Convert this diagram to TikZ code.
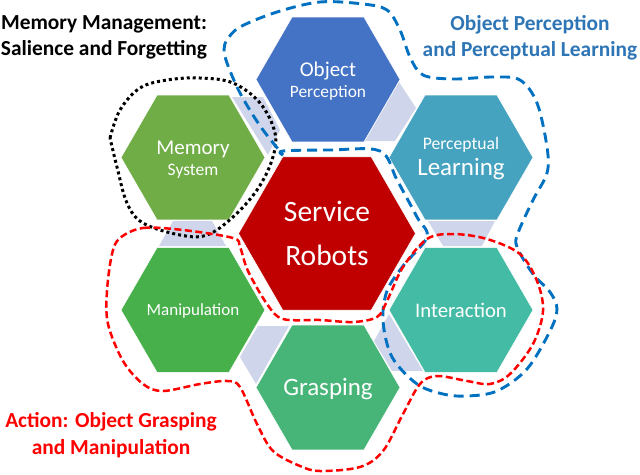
\documentclass[tikz,border=0pt]{standalone}
\usepackage{fontspec}
\setmainfont{Carlito}
\usetikzlibrary{shapes.geometric}
\definecolor{hexobj}{HTML}{4472C4}
\definecolor{hexper}{HTML}{45A3C0}
\definecolor{hexmem}{HTML}{70AD47}
\definecolor{hexman}{HTML}{47B04B}
\definecolor{hexgra}{HTML}{47B578}
\definecolor{hexint}{HTML}{44BBA4}
\definecolor{hexser}{HTML}{C00000}
\definecolor{traplight}{HTML}{CFD5EA}
\definecolor{lblblue}{HTML}{2E75B6}
\definecolor{dashblue}{HTML}{0070C0}
\newcommand{\fs}[1]{\fontsize{#1}{#1}\selectfont}
\newcommand{\dn}[2]{\raisebox{-#1}[\height][\depth]{#2}}
\tikzset{
  hexa/.style={regular polygon,regular polygon sides=6,minimum size=144pt,inner sep=-20pt,
    draw=white,line width=0.6pt,text=white,align=center},
  trap/.style={fill=traplight,draw=none},
  lbl/.style={font=\fs{21.4}\bfseries,align=center,inner sep=0pt},
  bluedash/.style={draw=dashblue,line width=2.9pt,dash pattern=on 10pt off 6pt,line join=round},
  reddash/.style={draw=red,line width=2.5pt,dash pattern=on 7pt off 3.5pt,line join=round},
  blackdot/.style={draw=black,line width=3pt,dash pattern=on 3pt off 3pt,line join=round},
}
\begin{document}
\begin{tikzpicture}[x=1pt,y=-1pt]
\useasboundingbox (0,0) rectangle (640,474);
% connecting trapezoids
\fill[trap] (232,97) -- (263,97) -- (280,130) -- (268,155) -- cycle;
\fill[trap] (399,82) -- (416,108) -- (395,141) -- (365,141) -- cycle;
\fill[trap] (428,221) -- (495,221) -- (482,246) -- (443,246) -- cycle;
\fill[trap] (389,314) -- (423,371) -- (392,371) -- (374,341) -- cycle;
\fill[trap] (240,357) -- (258,326) -- (289,326) -- (256,384) -- cycle;
\fill[trap] (173,221) -- (212,221) -- (226,246) -- (159,246) -- cycle;
% hexagons
\node[hexa,fill=hexobj] (object) at (328,79.5) {\fs{21}\dn{1pt}{Object}\\[4pt]\fs{17.4}\dn{2pt}{Perception}};
\node[hexa,fill=hexper] (perceptual) at (461,157.5) {\fs{17.6}\dn{1pt}{Perceptual}\\[5pt]\fs{25}\dn{1pt}{Learning}};
\node[hexa,fill=hexmem] (memory) at (193,157.5) {\fs{21}\dn{2pt}{Memory}\\[5pt]\fs{17.5}\dn{2pt}{System}};
\node[hexa,fill=hexman] (manipulation) at (193,310) {\fs{17}\dn{1pt}{Manipulation}};
\node[hexa,fill=hexint] (interaction) at (461,310) {\fs{20.7}\dn{0.5pt}{Interaction}};
\node[hexa,fill=hexgra] (grasping) at (328,387.5) {\fs{25}\dn{2pt}{Grasping}};
\node[hexa,fill=hexser,minimum size=177pt] (service) at (327,233.5) {\fs{29.5}Service\\[23pt]\fs{29.5}Robots};
% group outlines
\draw[blackdot] plot[smooth,tension=0.6] coordinates {(110,138) (120,110) (140,88) (167,80) (200,78) (233,83) (260,103) (275,133) (272,160) (257,190) (233,217) (207,235) (180,235) (143,223) (127,203) (117,167) (110,138)};
\draw[bluedash] plot[smooth,tension=0.55] coordinates {(283,155) (283,151) (330,150) (380,151) (397,180) (417,217) (427,237) (403,266) (387,291) (383,321) (392,357) (417,384) (443,394) (467,396) (497,391) (527,369) (550,331) (557,309) (550,292) (533,274) (517,247) (518,233) (533,200) (547,173) (547,147) (537,103) (520,80) (493,77) (453,79) (423,75) (410,57) (400,30) (387,10) (363,4) (320,2) (277,12) (240,27) (227,40) (224,50) (227,63) (237,87) (248,107) (263,130) (283,155)};
\draw[reddash] plot[smooth cycle,tension=0.55] coordinates {(120,238) (143,228) (183,230) (233,238) (240,247) (248,271) (267,304) (283,319) (320,320) (353,322) (377,317) (387,301) (403,267) (427,239) (453,234) (487,239) (520,254) (537,281) (543,311) (533,344) (510,374) (490,384) (467,381) (437,376) (420,384) (403,414) (383,451) (360,467) (320,471) (300,466) (273,451) (257,424) (240,387) (227,381) (200,384) (163,391) (143,384) (123,361) (108,324) (107,291) (112,254)};
% labels
\node[lbl,text=black] (lblmem) at (104,37.5) {Memory Management:\\[5pt]Salience and Forgetting};
\node[lbl,text=lblblue] (lblobj) at (530,37.5) {Object Perception\\[5pt]and Perceptual Learning};
\node[lbl,text=red] (lblact) at (111,435) {Action: Object Grasping\\[5pt]and Manipulation};
\end{tikzpicture}
\end{document}
